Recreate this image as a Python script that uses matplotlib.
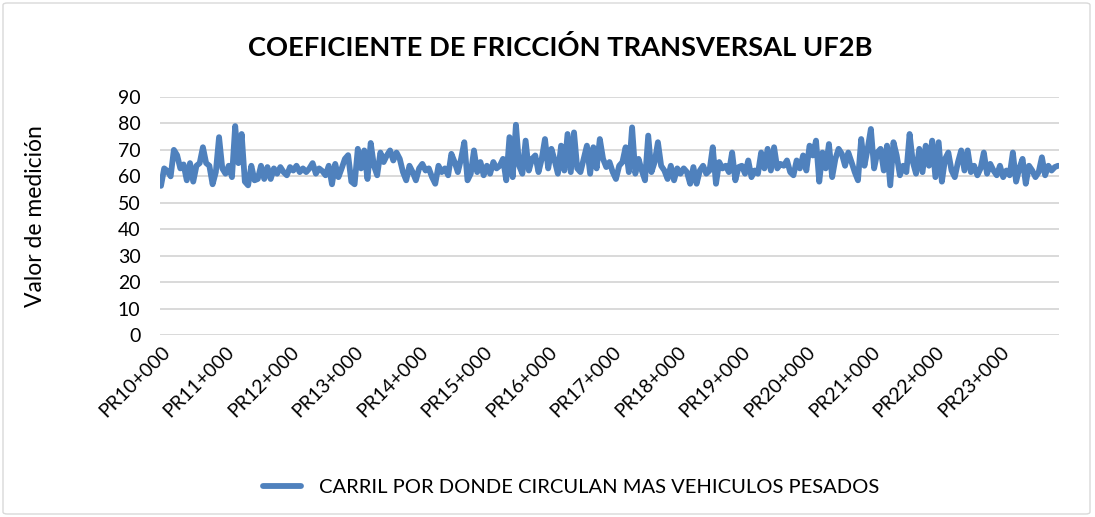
import matplotlib
matplotlib.use("Agg")
import matplotlib.pyplot as plt
from matplotlib.patches import FancyBboxPatch

plt.rcParams["font.family"] = ["Lato", "DejaVu Sans"]

# Transverse friction coefficient readings, one every 50 m from PR10+000
friccion = [
    56.4, 63, 62, 60, 70, 68, 63, 64.5, 58.5, 65, 58, 64, 65, 71, 65, 64, 57, 61.6, 74.8, 63,
    61, 64, 59.7, 79, 65, 76, 58, 56.6, 64, 58.5, 59, 64, 59, 63.5, 59, 63, 61, 63.5, 61.6, 60.4,
    63.5, 62.2, 64, 61.6, 63, 61.6, 63, 65, 61, 63, 62, 60.4, 64, 57, 64.7, 59.7, 63, 66.6, 68, 58,
    57, 70.4, 63, 69.8, 59, 72.6, 64, 60.4, 69, 65.4, 67.9, 69.8, 66, 69, 66.6, 61.6, 58.5, 64, 61.6, 58.5,
    63, 64.7, 62.2, 63, 59.7, 57.2, 64, 61.6, 63, 60.4, 68.5,
    65.4, 61.6, 66.6, 72.9, 58.5, 61, 69.8, 61.6, 65.4, 60.4, 64, 61, 65.4, 63, 64, 66.6, 58.5, 74.8,
    59.7, 79.5, 64, 61, 73.5, 62.2, 66.6, 67.9, 61.6, 66.6, 74.1, 63, 70.4, 66, 61, 71.6, 62.2, 76,
    61.6, 76.6, 63, 61.6, 66.6, 71.6, 61, 71, 63, 74.1, 66.6, 63.5, 65.4, 61.6, 59, 64, 65.4, 71,
    61.6, 78.5, 61, 66.6, 62.2, 58.5, 75.4, 61.6, 65.4, 72.9, 64, 62.2, 59, 64, 58.5, 63, 61, 63,
    61.6, 57.2, 63.5, 57.2, 62.2, 64, 61, 62.2, 71, 57.2, 65.4, 63, 64, 61.6, 69, 58.5, 63.5, 64,
    61, 66, 59.7, 62.2,
    61, 69, 63, 70.4, 62.2, 71, 63, 64.7, 64, 66, 61.6, 60.4, 66, 63, 67.9, 62.2, 71.6, 67.9,
    73.5, 58, 69, 63, 72.2, 59.7, 66.6, 70.4, 68.5, 64, 69, 65.4, 61.6, 58.5, 74.1, 64, 70.4, 77.9,
    63, 69, 70.4, 62.2, 71.6, 56.6, 72.9, 67.9, 60.4, 64, 61.6, 76, 65.4, 61, 70.4, 61.6, 71.6, 64,
    73.5, 59.7, 72.9, 58, 66.6, 69, 62.2, 59.7, 65.4, 69.8, 62.2, 69.8, 61.6, 64, 60.4, 63, 69, 61,
    64.7, 62.2, 60.4, 64, 59.7, 62.2, 60.4, 69, 58, 63, 66.6, 57.2, 64, 62.2, 59.7, 61.6, 67.2, 60.4,
    64, 62.2, 63.5, 64,
]

# Station labels at 50 m spacing; one label shown per kilometre
abscisas = [f"PR{10 + (i * 50) // 1000}+{(i * 50) % 1000:03d}" for i in range(len(friccion))]
y_ticks = list(range(0, 91, 10))

titulo = "COEFICIENTE DE FRICCIÓN TRANSVERSAL UF2B"
serie = "CARRIL POR DONDE CIRCULAN MAS VEHICULOS PESADOS"
eje_y = "Valor de medición"

W, H = 1095, 517
fig = plt.figure(figsize=(W / 100, H / 100), dpi=100)
fig.patch.set_facecolor("white")

# light outer frame of the chart area
frame = FancyBboxPatch((3 / W, 3 / H), (W - 8) / W, (H - 6) / H,
                       boxstyle="round,pad=0,rounding_size=0.004",
                       transform=fig.transFigure, facecolor="none",
                       edgecolor="#d9d9d9", linewidth=1.0)
fig.patches.append(frame)

ax = fig.add_axes([160 / W, 1 - 335 / H, (1059 - 160) / W, (335 - 97) / H])
xs = list(range(len(friccion)))
line, = ax.plot(xs, friccion, color="#4f81bd", linewidth=4.2,
                solid_joinstyle="round", solid_capstyle="round", zorder=3)

ax.set_ylim(0, 90)
ax.set_yticks(y_ticks)
ax.set_xlim(-0.3, len(friccion) - 0.7)
tick_idx = xs[::20]
ax.set_xticks(tick_idx)
ax.set_xticklabels([abscisas[i] for i in tick_idx], rotation=45, ha="right",
                   rotation_mode="anchor", fontsize=14, color="#000000")
ax.tick_params(axis="y", labelsize=14, length=0, pad=14)
ax.tick_params(axis="x", length=0, pad=6)
ax.grid(axis="y", color="#d9d9d9", linewidth=1.4, zorder=0)
ax.set_axisbelow(True)
for s in ax.spines.values():
    s.set_visible(False)

ax.set_ylabel(eje_y, fontsize=16.5, labelpad=52)

fig.text(560 / W, 1 - 48 / H, titulo, ha="center", va="center",
         fontsize=19.6, fontweight="bold")

fig.legend([line], [serie], loc="center", bbox_to_anchor=(571 / W, 1 - 487 / H),
           frameon=False, fontsize=14.5, handlelength=1.9, handletextpad=0.9)

fig.savefig("out.png", dpi=100, facecolor="white")
